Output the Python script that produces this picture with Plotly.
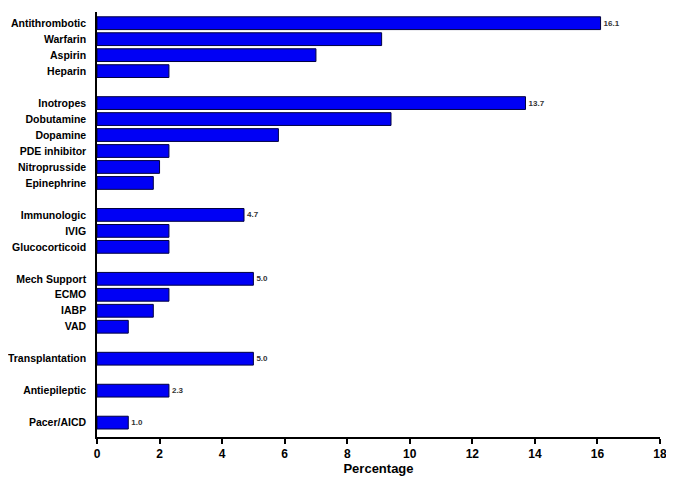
import plotly.graph_objects as go

# Data (None = spacer row between groups)
categories = ["Antithrombotic", "Warfarin", "Aspirin", "Heparin", "",
              "Inotropes", "Dobutamine", "Dopamine", "PDE inhibitor", "Nitroprusside", "Epinephrine", "",
              "Immunologic", "IVIG", "Glucocorticoid", "",
              "Mech Support", "ECMO", "IABP", "VAD", "",
              "Transplantation", "",
              "Antiepileptic", "",
              "Pacer/AICD"]
values = [16.1, 9.1, 7.0, 2.3, None,
          13.7, 9.4, 5.8, 2.3, 2.0, 1.8, None,
          4.7, 2.3, 2.3, None,
          5.0, 2.3, 1.8, 1.0, None,
          5.0, None,
          2.3, None,
          1.0]
labeled = ["Antithrombotic", "Inotropes", "Immunologic", "Mech Support",
           "Transplantation", "Antiepileptic", "Pacer/AICD"]
x_ticks = [0, 2, 4, 6, 8, 10, 12, 14, 16, 18]

pos = [i for i, v in enumerate(values) if v is not None]
vals = [values[i] for i in pos]
texts = [f"<b>{values[i]:.1f}</b>" if categories[i] in labeled else "" for i in pos]

fig = go.Figure(go.Bar(
    x=vals, y=pos, orientation="h",
    marker=dict(color="#0000f5", line=dict(color="#000040", width=1)),
    width=0.8,
    text=texts, textposition="outside", cliponaxis=False,
    textfont=dict(family="Liberation Sans", size=8, color="#333333"),
))

fig.update_layout(
    width=666, height=477,
    margin=dict(l=89, r=14, t=4, b=48),
    plot_bgcolor="white", paper_bgcolor="white",
    showlegend=False,
    font=dict(family="Liberation Sans", color="black"),
)
fig.update_xaxes(
    range=[0, 18], tickvals=x_ticks, ticktext=[f"<b>{t}</b>" for t in x_ticks],
    showgrid=False, zeroline=False, automargin=False,
    showline=True, linecolor="black", linewidth=1.5,
    ticks="outside", ticklen=5, tickwidth=1.5, tickcolor="black",
    tickfont=dict(size=12, family="Liberation Sans"),
    title=dict(text="<b>Percentage</b>", font=dict(size=13, family="Liberation Sans"), standoff=4),
)
fig.update_yaxes(
    range=[25.9, -0.7],
    tickvals=pos, ticktext=[f"<b>{categories[i]}</b>" for i in pos],
    showgrid=False, zeroline=False, automargin=False,
    showline=True, linecolor="black", linewidth=1.5,
    ticks="", ticklabelstandoff=7,
    tickfont=dict(size=10.5, family="Liberation Sans"),
)

fig.write_html("out.html")
